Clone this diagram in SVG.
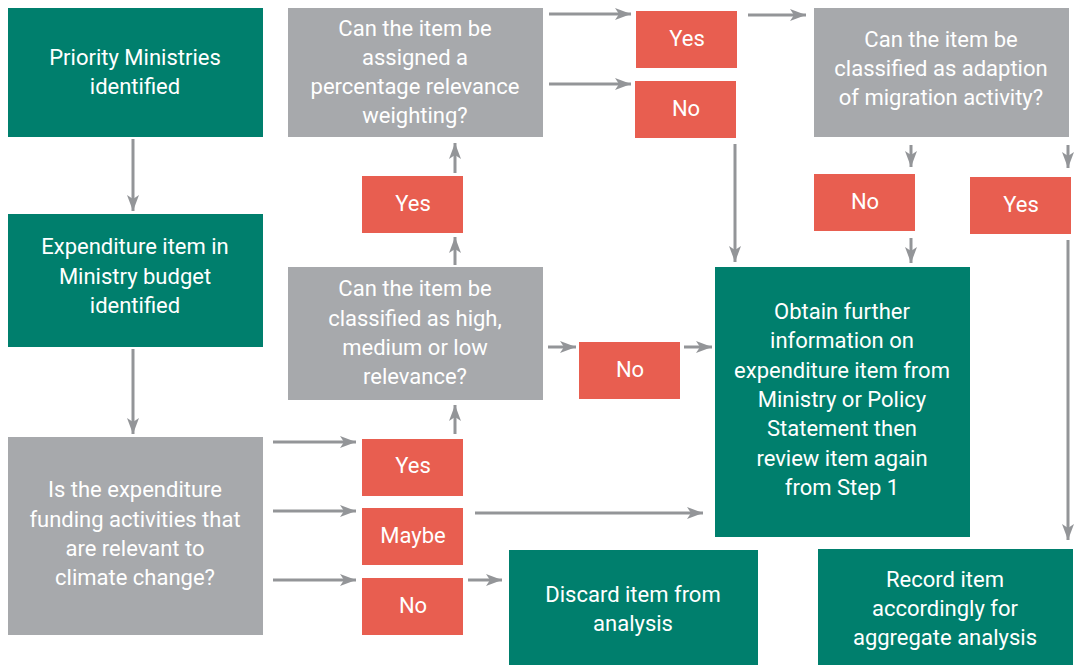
<svg xmlns="http://www.w3.org/2000/svg" width="1078" height="665" viewBox="0 0 1078 665">
<defs>
<marker id="ah" viewBox="0 0 16 12" refX="16" refY="6" markerWidth="16" markerHeight="12" markerUnits="userSpaceOnUse" orient="auto">
<path d="M0,0 L16,6 L0,12 L4,6 Z" fill="#939598"/>
</marker>
<style>
.g rect{fill:#007f6d}
.q rect{fill:#a7a9ac}
.r rect{fill:#e85e50}
text{font-family:"Liberation Sans Narrow","Roboto","Liberation Sans",sans-serif;font-size:22px;fill:#fff;text-anchor:middle}
.c line{stroke:#939598;stroke-width:3;marker-end:url(#ah)}
</style>
</defs>
<rect width="1078" height="665" fill="#fff"/>
<g class="c" id="connectors">
<line x1="133" y1="139" x2="133" y2="211"/>
<line x1="133" y1="349" x2="133" y2="434"/>
<line x1="273" y1="442" x2="356" y2="442"/>
<line x1="273" y1="511" x2="356" y2="511"/>
<line x1="273" y1="580" x2="356" y2="580"/>
<line x1="468" y1="580" x2="502" y2="580"/>
<line x1="475" y1="513" x2="703" y2="513"/>
<line x1="455" y1="434" x2="455" y2="405"/>
<line x1="455" y1="265" x2="455" y2="237"/>
<line x1="455" y1="173" x2="455" y2="143"/>
<line x1="548" y1="347" x2="576" y2="347"/>
<line x1="684" y1="347" x2="712" y2="347"/>
<line x1="549" y1="14" x2="631" y2="14"/>
<line x1="549" y1="84" x2="631" y2="84"/>
<line x1="748" y1="15" x2="806" y2="15"/>
<line x1="735" y1="144" x2="735" y2="262"/>
<line x1="911" y1="145" x2="911" y2="167"/>
<line x1="911" y1="238" x2="911" y2="263"/>
<line x1="1068" y1="145" x2="1068" y2="168"/>
<line x1="1068" y1="240" x2="1068" y2="540"/>
</g>
<g class="g" id="priority"><rect x="8" y="8" width="255" height="129"/><text x="135" y="65">Priority Ministries</text><text x="135" y="94">identified</text></g>
<g class="g" id="expenditure"><rect x="8" y="214" width="255" height="133"/><text x="135" y="254">Expenditure item in</text><text x="135" y="284">Ministry budget</text><text x="135" y="313">identified</text></g>
<g class="q" id="q-relevant"><rect x="8" y="437" width="255" height="198"/><text x="135" y="497">Is the expenditure</text><text x="135" y="527">funding activities that</text><text x="135" y="556">are relevant to</text><text x="135" y="585">climate change?</text></g>
<g class="r" id="yes-bottom"><rect x="362" y="439" width="101" height="57"/><text x="413" y="473">Yes</text></g>
<g class="r" id="maybe"><rect x="362" y="508" width="101" height="57"/><text x="413" y="543">Maybe</text></g>
<g class="r" id="no-bottom"><rect x="362" y="578" width="101" height="57"/><text x="413" y="613">No</text></g>
<g class="g" id="discard"><rect x="509" y="550" width="249" height="115"/><text x="633" y="602">Discard item from</text><text x="633" y="631">analysis</text></g>
<g class="q" id="q-high"><rect x="288" y="267" width="255" height="133"/><text x="415" y="296">Can the item be</text><text x="415" y="326">classified as high,</text><text x="415" y="355">medium or low</text><text x="415" y="384">relevance?</text></g>
<g class="r" id="yes-mid"><rect x="362" y="176" width="101" height="57"/><text x="413" y="211">Yes</text></g>
<g class="r" id="no-mid"><rect x="579" y="342" width="101" height="57"/><text x="630" y="377">No</text></g>
<g class="q" id="q-percent"><rect x="288" y="8" width="255" height="129"/><text x="415" y="36">Can the item be</text><text x="415" y="65">assigned a</text><text x="415" y="94">percentage relevance</text><text x="415" y="123">weighting?</text></g>
<g class="r" id="yes-top"><rect x="636" y="11" width="101" height="57"/><text x="687" y="46">Yes</text></g>
<g class="r" id="no-top"><rect x="635" y="81" width="101" height="57"/><text x="686" y="116">No</text></g>
<g class="q" id="q-adaption"><rect x="814" y="8" width="255" height="129"/><text x="941" y="47">Can the item be</text><text x="941" y="76">classified as adaption</text><text x="941" y="105">of migration activity?</text></g>
<g class="r" id="no-right"><rect x="814" y="174" width="101" height="57"/><text x="865" y="209">No</text></g>
<g class="r" id="yes-right"><rect x="970" y="177" width="101" height="57"/><text x="1021" y="212">Yes</text></g>
<g class="g" id="obtain"><rect x="715" y="267" width="255" height="270"/><text x="842" y="319">Obtain further</text><text x="842" y="348">information on</text><text x="842" y="378">expenditure item from</text><text x="842" y="407">Ministry or Policy</text><text x="842" y="436">Statement then</text><text x="842" y="466">review item again</text><text x="842" y="495">from Step 1</text></g>
<g class="g" id="record"><rect x="818" y="549" width="255" height="116"/><text x="945" y="587">Record item</text><text x="945" y="616">accordingly for</text><text x="945" y="645">aggregate analysis</text></g>
</svg>
